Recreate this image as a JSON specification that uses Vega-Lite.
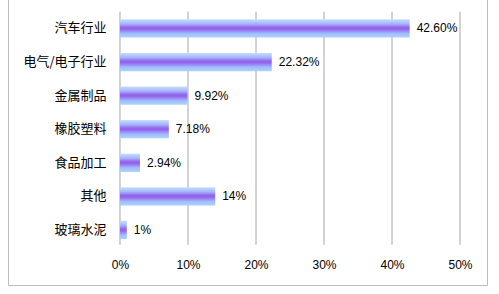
{
  "$schema": "https://vega.github.io/schema/vega-lite/v6.json",
  "autosize": {"type": "none"},
  "padding": {"left": 8, "top": -2, "right": 12, "bottom": 9},
  "width": 479,
  "height": 287,
  "background": "white",
  "config": {
    "view": {"stroke": "#bcbcbc", "strokeWidth": 1},
    "font": "Liberation Sans"
  },
  "datasets": {
    "bars": [
      {"cat": "汽车行业", "value": 42.6, "label": "42.60%"},
      {"cat": "电气/电子行业", "value": 22.32, "label": "22.32%"},
      {"cat": "金属制品", "value": 9.92, "label": "9.92%"},
      {"cat": "橡胶塑料", "value": 7.18, "label": "7.18%"},
      {"cat": "食品加工", "value": 2.94, "label": "2.94%"},
      {"cat": "其他", "value": 14, "label": "14%"},
      {"cat": "玻璃水泥", "value": 1, "label": "1%"}
    ],
    "ticks": [{"t": 0}, {"t": 10}, {"t": 20}, {"t": 30}, {"t": 40}, {"t": 50}]
  },
  "layer": [
    {
      "data": {"name": "ticks"},
      "mark": {"type": "rule", "color": "#a6a6a6", "strokeWidth": 1},
      "encoding": {
        "x": {"field": "t", "type": "quantitative", "scale": {"domain": [-16.47, 53.97], "nice": false, "zero": false},
          "axis": {"orient": "bottom", "values": [0, 10, 20, 30, 40, 50], "labelExpr": "datum.value + '%'", "title": null, "grid": false, "ticks": false, "domain": false, "offset": -21, "labelPadding": 0, "labelBaseline": "middle", "labelFontSize": 12, "labelColor": "#000000", "labelFont": "Liberation Sans"}},
        "y": {"datum": "汽车行业", "type": "nominal", "bandPosition": -0.417,
          "scale": {"domain": ["汽车行业", "电气/电子行业", "金属制品", "橡胶塑料", "食品加工", "其他", "玻璃水泥"], "paddingInner": 0.4545, "paddingOuter": 1.076, "align": 0.317},
          "axis": {"orient": "left", "title": null, "offset": -112, "labelPadding": 14, "ticks": false, "domain": false, "grid": false, "labelFontSize": 13, "labelColor": "#000000", "labelFont": "Noto Sans CJK SC"}},
        "y2": {"datum": "玻璃水泥", "bandPosition": 1.306}
      }
    },
    {
      "data": {"name": "bars"},
      "mark": {"type": "bar", "fill": {"gradient": "linear", "x1": 0, "y1": 0, "x2": 0, "y2": 1, "stops": [
        {"offset": 0, "color": "#c6deff"},
        {"offset": 0.25, "color": "#a6b4fb"},
        {"offset": 0.45, "color": "#9262ec"},
        {"offset": 0.55, "color": "#9468ee"},
        {"offset": 0.78, "color": "#a2bcfd"},
        {"offset": 1, "color": "#aad4ff"}
      ]}},
      "encoding": {
        "x": {"field": "value", "type": "quantitative"},
        "y": {"field": "cat", "type": "nominal", "sort": null}
      }
    },
    {
      "data": {"name": "bars"},
      "mark": {"type": "text", "align": "left", "baseline": "middle", "dx": 7, "fontSize": 12, "font": "Liberation Sans", "color": "#000000"},
      "encoding": {
        "x": {"field": "value", "type": "quantitative"},
        "y": {"field": "cat", "type": "nominal", "sort": null},
        "text": {"field": "label"}
      }
    }
  ]
}
